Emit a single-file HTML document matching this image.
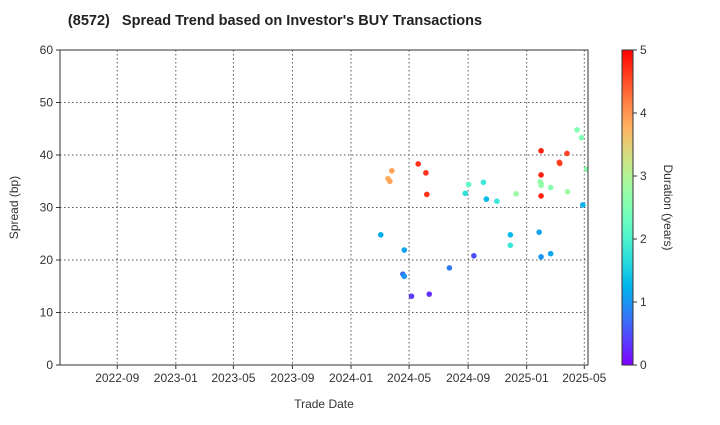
<!DOCTYPE html>
<html><head><meta charset="utf-8"><style>body{margin:0;background:#fff}svg{font-family:"Liberation Sans",sans-serif}</style></head>
<body>
<svg id="chart" width="720" height="420" viewBox="0 0 720 420"></svg>
<script>
const dayOffsets=[62,111,108,111,126,163,205,256,85,77,81,140,156,158,238,245,276,282,304,344,332,332,392,396,416,396,396,396,394,396,396,416,434,435,450,451,471,480,491,483];
const spreads=[24.8,21.9,17.3,16.9,13.1,13.5,18.5,20.8,37.0,35.5,35.0,38.3,36.6,32.5,32.7,34.4,34.8,31.6,31.2,32.6,24.8,22.8,25.3,20.6,21.2,40.8,36.2,32.2,34.9,34.6,34.2,33.8,38.6,38.4,40.3,33.0,44.8,43.3,37.3,30.5];
const durations=[1.2,1.1,0.7,1.0,0.4,0.3,0.8,0.5,3.9,3.8,3.9,4.7,4.7,4.7,1.7,2.2,1.8,1.3,1.8,2.8,1.3,1.8,1.1,1.0,1.1,4.8,4.8,4.8,2.7,2.7,2.7,2.6,4.6,4.6,4.6,2.8,2.5,2.5,2.6,1.2];
const xTickLabels=["2022-09","2023-01","2023-05","2023-09","2024-01","2024-05","2024-09","2025-01","2025-05"];
const yTicks=[0,10,20,30,40,50,60];
const cbTicks=[0,1,2,3,4,5];
const NS="http://www.w3.org/2000/svg",svg=document.getElementById("chart");
const L=60,R=588,T=50,B=365;
const base=Date.UTC(2024,0,1),DAY=86400000,PPD=0.48;
function xDays(d){return 351+d*PPD;}
function xDate(s){const[y,m]=s.split("-").map(Number);return xDays((Date.UTC(y,m-1,1)-base)/DAY);}
function yS(v){return B-(v/60)*(B-T);}
function el(t,a,p){const e=document.createElementNS(NS,t);for(const k in a)e.setAttribute(k,a[k]);(p||svg).appendChild(e);return e;}
function rainbow(v){v=Math.max(0,Math.min(1,v));const cl=x=>Math.round(255*Math.max(0,Math.min(1,x)));
 return`rgb(${cl(Math.abs(2*v-0.5))},${cl(Math.sin(Math.PI*v))},${cl(Math.cos(Math.PI*v/2))})`;}
let t=el("text",{x:275,y:25,"text-anchor":"middle","font-size":14.5,"font-weight":"bold",fill:"#222"});t.textContent="(8572)\u00a0\u00a0\u00a0Spread Trend based on Investor's BUY Transactions";

yTicks.forEach(v=>{const y=yS(v);
 if(v>0&&v<60){const g=el("line",{x1:L,x2:R,y1:y,y2:y,stroke:"#555","stroke-dasharray":"1.5,2.5","stroke-width":1});}
 el("line",{x1:L-4,x2:L,y1:y,y2:y,stroke:"#333"});
 const tx=el("text",{x:L-7,y:y+4,"text-anchor":"end","font-size":12,fill:"#333"});tx.textContent=v;});
xTickLabels.forEach(s=>{const x=xDate(s);
 const g=el("line",{x1:x,x2:x,y1:T,y2:B,stroke:"#555","stroke-dasharray":"1.5,2.5","stroke-width":1});
 el("line",{x1:x,x2:x,y1:B,y2:B+4,stroke:"#333"});
 const tx=el("text",{x:x,y:B+17,"text-anchor":"middle","font-size":12,fill:"#333"});tx.textContent=s;});
const cp=el("clipPath",{id:"cp"});el("rect",{x:L,y:T,width:R-L,height:B-T},cp);
const pts=el("g",{"clip-path":"url(#cp)"});
dayOffsets.forEach((d,i)=>{const c=el("circle",{cx:xDays(d),cy:yS(spreads[i]),r:2.8,fill:rainbow(durations[i]/5)},pts);
 });
const fr=el("rect",{x:L,y:T,width:R-L,height:B-T,fill:"none",stroke:"#333"});
let yl=el("text",{x:0,y:0,transform:`translate(18,${(T+B)/2}) rotate(-90)`,"text-anchor":"middle","font-size":12,fill:"#333"});yl.textContent="Spread (bp)";
let xl=el("text",{x:(L+R)/2,y:408,"text-anchor":"middle","font-size":12,fill:"#333"});xl.textContent="Trade Date";
const defs=el("defs",{});const lg=el("linearGradient",{id:"jg",x1:0,y1:1,x2:0,y2:0},defs);
for(let i=0;i<=20;i++)el("stop",{offset:i/20,"stop-color":rainbow(i/20)},lg);
const cb=el("rect",{x:622,y:T,width:11,height:B-T,fill:"url(#jg)",stroke:"#333"});
cbTicks.forEach(v=>{const y=B-v/5*(B-T);el("line",{x1:633,x2:637,y1:y,y2:y,stroke:"#333"});
 const tx=el("text",{x:640,y:y+4,"font-size":12,fill:"#333"});tx.textContent=v;});
let cl=el("text",{x:0,y:0,transform:`translate(664,${(T+B)/2}) rotate(90)`,"text-anchor":"middle","font-size":12,fill:"#333"});cl.textContent="Duration (years)";
</script>
</body></html>
